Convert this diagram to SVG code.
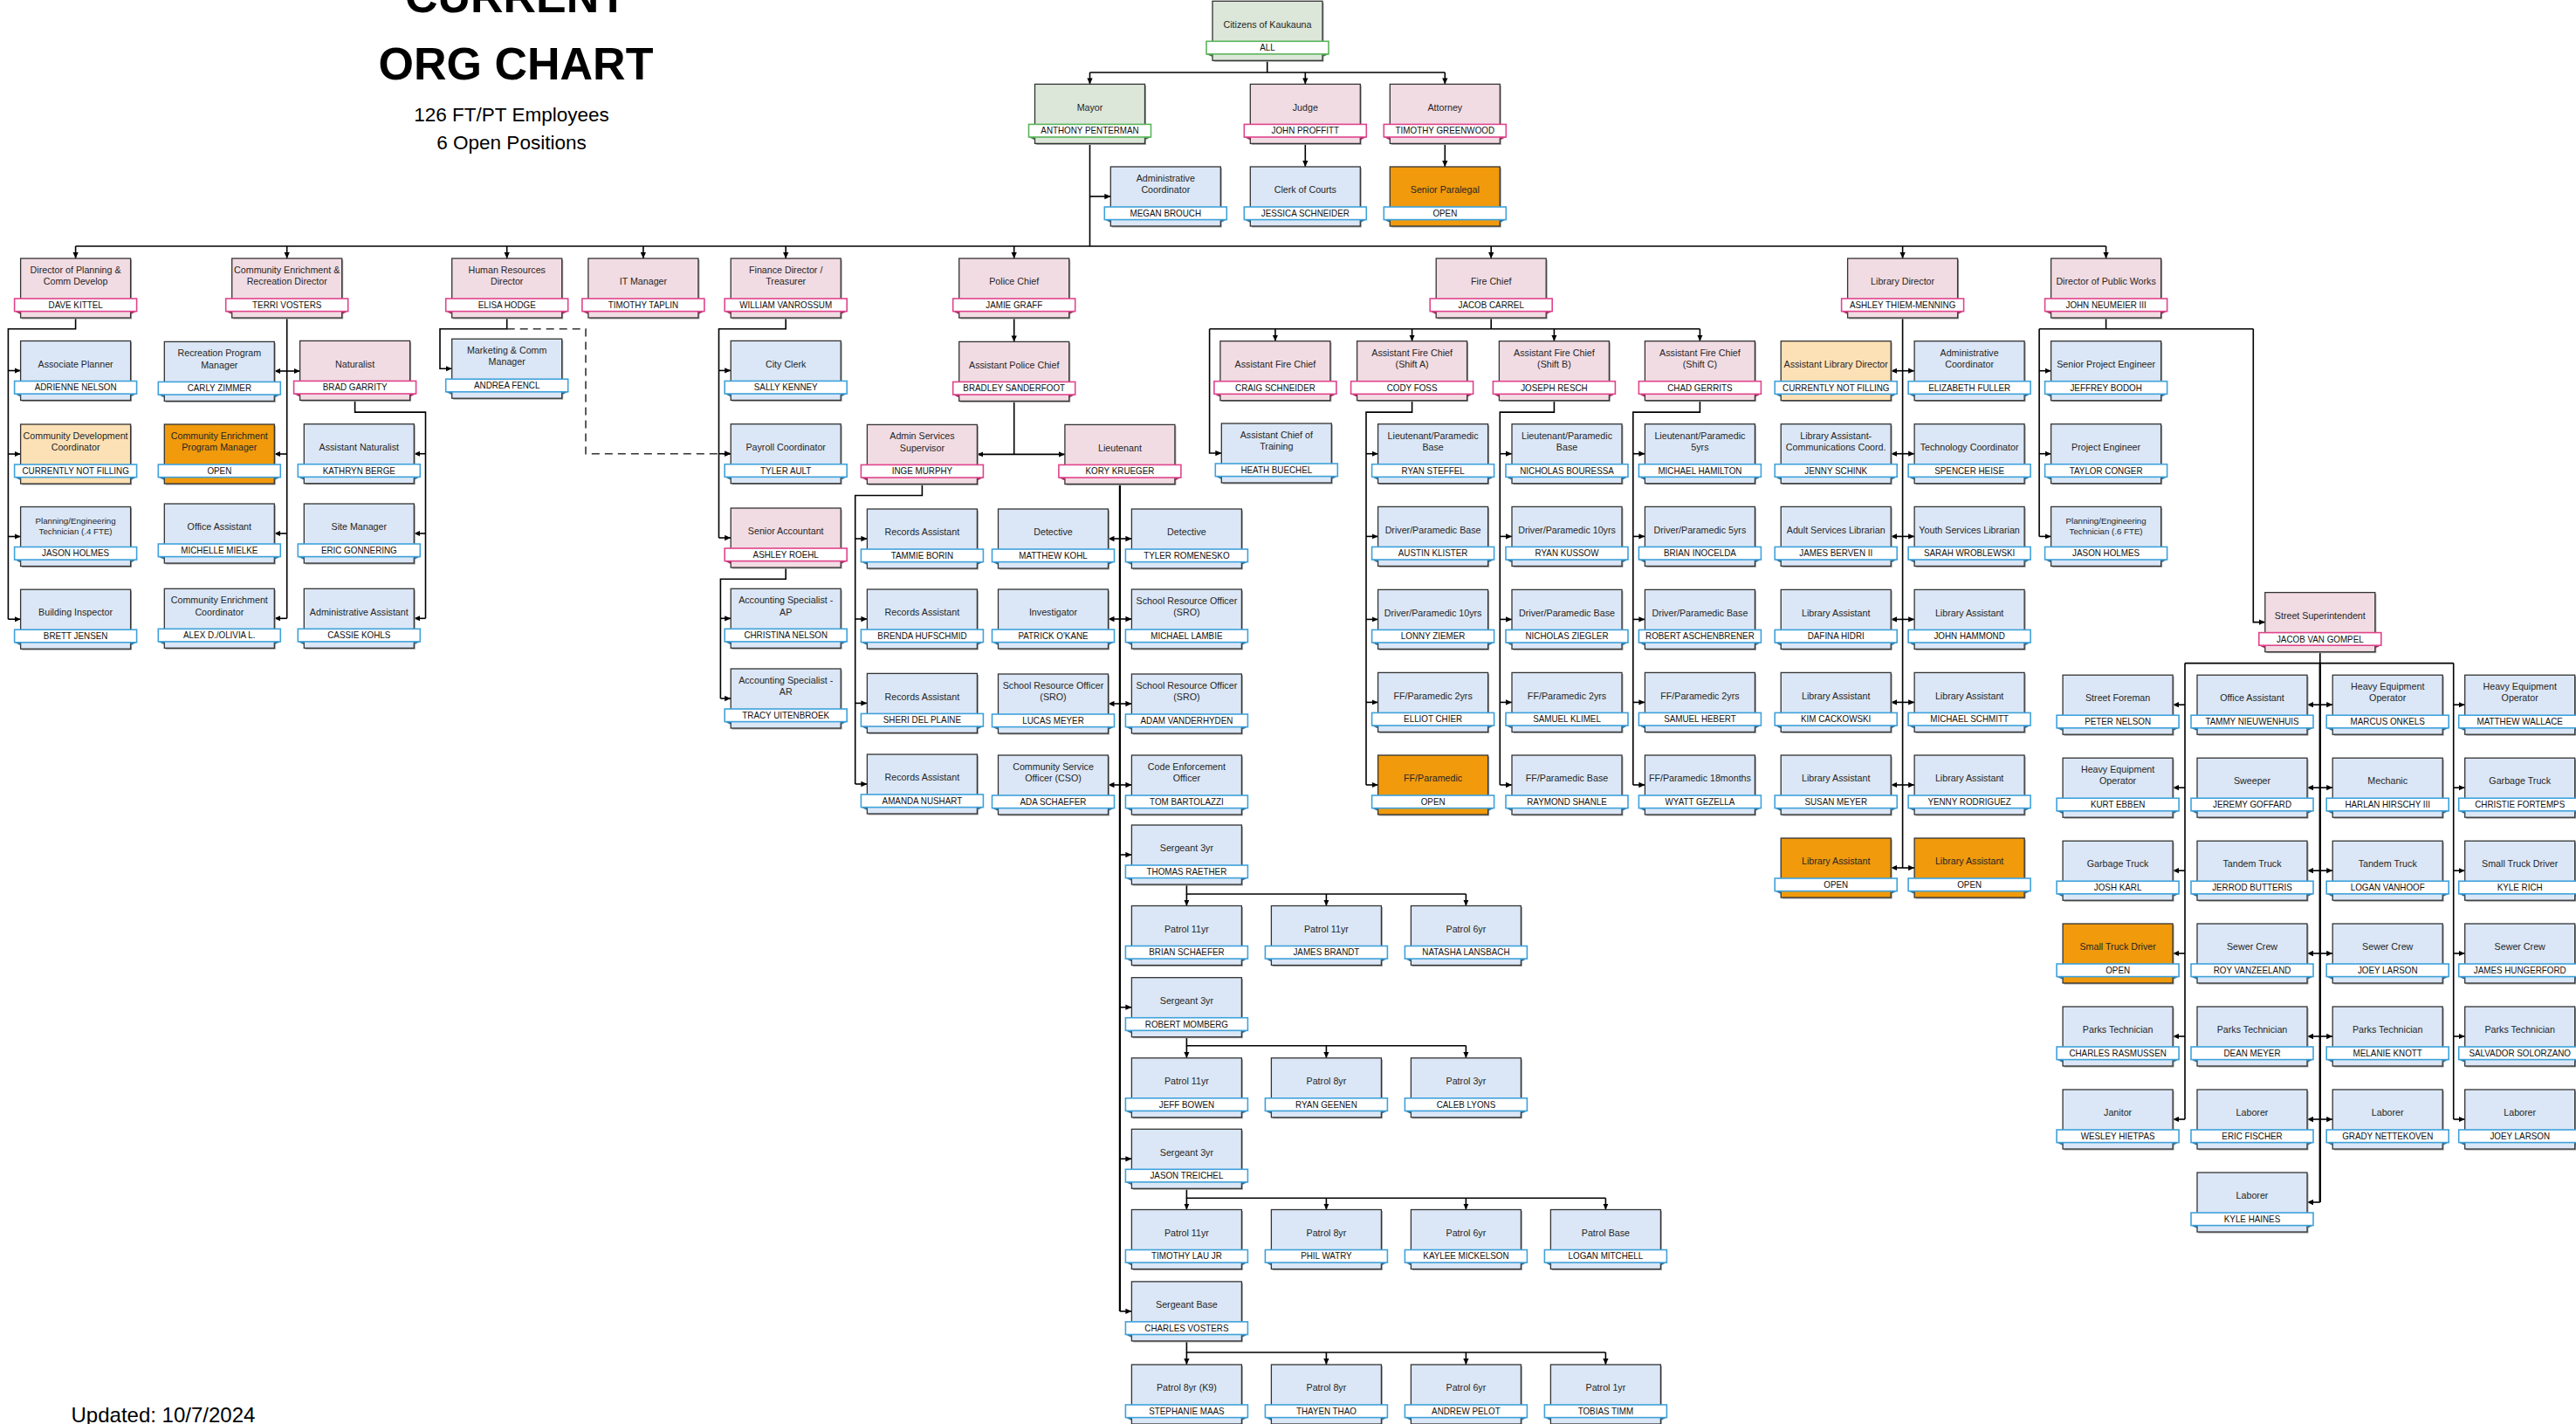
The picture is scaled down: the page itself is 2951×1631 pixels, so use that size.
<svg xmlns="http://www.w3.org/2000/svg" xmlns:xlink="http://www.w3.org/1999/xlink" width="2951" height="1631" viewBox="0 0 2951 1631">
<style>
.t{font-family:"Liberation Sans",Arial,sans-serif;font-size:10.7px;fill:#262626;text-anchor:middle}
.ts{font-size:9.7px}
.n{font-family:"Liberation Sans",Arial,sans-serif;font-size:10.7px;fill:#111;text-anchor:middle}
.h1{font-family:"Liberation Sans",Arial,sans-serif;font-size:52px;font-weight:bold;fill:#000;text-anchor:middle}
.h2{font-family:"Liberation Sans",Arial,sans-serif;font-size:22.5px;fill:#000;text-anchor:middle}
.h3{font-family:"Liberation Sans",Arial,sans-serif;font-size:24px;fill:#000}
.c path{fill:none;stroke:#000;stroke-width:1.6}
.c .a{marker-end:url(#ah)}
.c .d{marker-start:url(#ah);marker-end:url(#ah)}
.c .dash{stroke:#333;stroke-dasharray:9 6}
.bx{stroke:#333;stroke-width:1.3}
.bd{fill:#fff;stroke-width:1.6}
.sh{fill:#a3a3a3}
</style>
<defs>
<marker id="ah" viewBox="0 0 8 8" refX="8" refY="4" markerWidth="7" markerHeight="7" markerUnits="userSpaceOnUse" orient="auto-start-reverse"><path d="M0,0.4L8,4L0,7.6z" fill="#000"/></marker>
<g id="bP"><rect class="sh" x="1.5" y="1.5" width="126" height="68"/><rect class="bx" width="126" height="68" fill="#F2DCE3"/><path d="M-7,60.6H0V64ZM133,60.6H126V64Z" fill="#9E2B5F"/><rect class="bd" x="-7" y="46" width="140" height="14.6" stroke="#E0448C"/></g>
<g id="bB"><rect class="sh" x="1.5" y="1.5" width="126" height="68"/><rect class="bx" width="126" height="68" fill="#DBE7F6"/><path d="M-7,60.6H0V64ZM133,60.6H126V64Z" fill="#2C6F98"/><rect class="bd" x="-7" y="46" width="140" height="14.6" stroke="#3FA2DB"/></g>
<g id="bG"><rect class="sh" x="1.5" y="1.5" width="126" height="68"/><rect class="bx" width="126" height="68" fill="#DCE7DA"/><path d="M-7,60.6H0V64ZM133,60.6H126V64Z" fill="#3A7A3A"/><rect class="bd" x="-7" y="46" width="140" height="14.6" stroke="#5AB55A"/></g>
<g id="bO"><rect class="sh" x="1.5" y="1.5" width="126" height="68"/><rect class="bx" width="126" height="68" fill="#F09A0C"/><path d="M-7,60.6H0V64ZM133,60.6H126V64Z" fill="#2C6F98"/><rect class="bd" x="-7" y="46" width="140" height="14.6" stroke="#3FA2DB"/></g>
<g id="bY"><rect class="sh" x="1.5" y="1.5" width="126" height="68"/><rect class="bx" width="126" height="68" fill="#FDE1B6"/><path d="M-7,60.6H0V64ZM133,60.6H126V64Z" fill="#2C6F98"/><rect class="bd" x="-7" y="46" width="140" height="14.6" stroke="#3FA2DB"/></g>
</defs>
<rect width="2951" height="1631" fill="#fff"/>
<g id="title">
<text class="h1" x="591" y="14">CURRENT</text>
<text class="h1" x="591" y="91">ORG CHART</text>
<text class="h2" x="586" y="139">126 FT/PT Employees</text>
<text class="h2" x="586" y="170.5">6 Open Positions</text>
<text class="h3" x="81.5" y="1629">Updated: 10/7/2024</text>
</g>
<g id="connectors" class="c">
<path d="M1451.7,69.6V83M1248.5,83H1655.3M1248.5,164.4V282M86.6,282H2412.6"/>
<path class="a" d="M1248.5,83V96.4"/><path class="a" d="M1495.3,83V96.4"/><path class="a" d="M1655.3,83V96.4"/>
<path class="a" d="M1495.3,164.4V191"/><path class="a" d="M1655.3,164.4V191"/><path class="a" d="M1248.5,225H1272.3"/>
<path class="a" d="M86.6,282V296"/><path class="a" d="M328.7,282V296"/><path class="a" d="M580.7,282V296"/><path class="a" d="M736.9,282V296"/><path class="a" d="M900.2,282V296"/><path class="a" d="M1161.7,282V296"/><path class="a" d="M1708.2,282V296"/><path class="a" d="M2179.6,282V296"/><path class="a" d="M2412.6,282V296"/>
<path d="M86.6,364V376.8H9.4V709.2"/>
<path class="a" d="M9.4,424.5H23.6"/><path class="a" d="M9.4,520H23.6"/><path class="a" d="M9.4,614.5H23.6"/><path class="a" d="M9.4,709.2H23.6"/>
<path d="M328.7,364V708.3"/>
<path class="d" d="M314.3,425H343.6"/><path class="a" d="M328.7,520H314.3"/><path class="a" d="M328.7,611H314.3"/><path class="a" d="M328.7,708.3H314.3"/>
<path d="M406.6,458.4V472.1H487.5V708.3"/>
<path class="a" d="M487.5,519.7H474.3"/><path class="a" d="M487.5,611H474.3"/><path class="a" d="M487.5,708.3H474.3"/>
<path class="a" d="M580.7,364V376.8H504V422.2H517.7"/>
<path class="a dash" d="M580.7,376.8H671V519.7H837.2"/>
<path d="M900.2,364V376.8H823.5V616"/>
<path class="a" d="M823.5,424.4H837.2"/><path class="a" d="M823.5,519.7H837.2"/><path class="a" d="M823.5,616H837.2"/>
<path d="M900.2,650V663.2H825.4V800"/>
<path class="a" d="M825.4,708.3H837.2"/><path class="a" d="M825.4,800H837.2"/>
<path class="a" d="M1161.7,364V391.4"/>
<path d="M1161.7,459.4V520.4"/><path class="d" d="M1119.4,520.4H1219.9"/>
<path d="M1056.4,554.4V567.5H979.7V898"/>
<path class="a" d="M979.7,617H993.4"/><path class="a" d="M979.7,709H993.4"/><path class="a" d="M979.7,805.4H993.4"/><path class="a" d="M979.7,898H993.4"/>
<path d="M1282.9,554.4V1501.9" style="stroke-width:2.2"/>
<path class="d" d="M1269.5,617H1296.4"/><path class="d" d="M1269.5,709H1296.4"/><path class="d" d="M1269.5,806H1296.4"/><path class="d" d="M1269.5,899H1296.4"/>
<path class="a" d="M1282.9,979H1296.4"/><path class="a" d="M1282.9,1153.7H1296.4"/><path class="a" d="M1282.9,1327.3H1296.4"/><path class="a" d="M1282.9,1501.9H1296.4"/>
<path d="M1359.4,1013V1024H1679.4"/>
<path class="a" d="M1359.4,1024V1037.5"/><path class="a" d="M1519.4,1024V1037.5"/><path class="a" d="M1679.4,1024V1037.5"/>
<path d="M1359.4,1187.7V1197.7H1679.4"/>
<path class="a" d="M1359.4,1197.7V1211.8"/><path class="a" d="M1519.4,1197.7V1211.8"/><path class="a" d="M1679.4,1197.7V1211.8"/>
<path d="M1359.4,1361.3V1372.3H1839.4"/>
<path class="a" d="M1359.4,1372.3V1385.5"/><path class="a" d="M1519.4,1372.3V1385.5"/><path class="a" d="M1679.4,1372.3V1385.5"/><path class="a" d="M1839.4,1372.3V1385.5"/>
<path d="M1359.4,1535.9V1549H1839.4"/>
<path class="a" d="M1359.4,1549V1563"/><path class="a" d="M1519.4,1549V1563"/><path class="a" d="M1679.4,1549V1563"/><path class="a" d="M1839.4,1549V1563"/>
<path d="M1708.2,364V376.8M1385.6,376.8H1947.4"/>
<path class="a" d="M1385.6,376.8V519H1399.3"/>
<path class="a" d="M1460.9,376.8V390.7"/><path class="a" d="M1617.6,376.8V390.7"/><path class="a" d="M1780.4,376.8V390.7"/><path class="a" d="M1947.4,376.8V390.7"/>
<path d="M1617.6,458.7V472.1H1565V899"/>
<path class="a" d="M1565,519.7H1578.6"/><path class="a" d="M1565,614.4H1578.6"/><path class="a" d="M1565,709.4H1578.6"/><path class="a" d="M1565,804.4H1578.6"/><path class="a" d="M1565,899H1578.6"/>
<path d="M1780.4,458.7V472.1H1718.3V899"/>
<path class="a" d="M1718.3,519.7H1732"/><path class="a" d="M1718.3,614.4H1732"/><path class="a" d="M1718.3,709.4H1732"/><path class="a" d="M1718.3,804.4H1732"/><path class="a" d="M1718.3,899H1732"/>
<path d="M1947.4,458.7V472.1H1870.8V899"/>
<path class="a" d="M1870.8,519.7H1884.4"/><path class="a" d="M1870.8,614.4H1884.4"/><path class="a" d="M1870.8,709.4H1884.4"/><path class="a" d="M1870.8,804.4H1884.4"/><path class="a" d="M1870.8,899H1884.4"/>
<path d="M2179.6,364V994"/>
<path class="d" d="M2166.2,424.7H2193.1"/><path class="d" d="M2166.2,519.7H2193.1"/><path class="d" d="M2166.2,614.4H2193.1"/><path class="d" d="M2166.2,709.4H2193.1"/><path class="d" d="M2166.2,804.4H2193.1"/><path class="d" d="M2166.2,899H2193.1"/><path class="d" d="M2166.2,994H2193.1"/>
<path d="M2412.6,364V376.8M2336.1,376.8H2581.3M2336.1,376.8V614.4"/>
<path class="a" d="M2336.1,424.7H2349.6"/><path class="a" d="M2336.1,519.7H2349.6"/><path class="a" d="M2336.1,614.4H2349.6"/>
<path class="a" d="M2581.3,376.8V712.6H2594.8"/>
<path d="M2657.8,746.6V759.6M2503,759.6H2810.7M2503,759.6V1282M2810.7,759.6V1282"/>
<path d="M2657.8,759.6V1377" style="stroke-width:2.4"/>
<path class="a" d="M2503,807.2H2489.1"/><path class="a" d="M2503,902.2H2489.1"/><path class="a" d="M2503,997.2H2489.1"/><path class="a" d="M2503,1092H2489.1"/><path class="a" d="M2503,1187H2489.1"/><path class="a" d="M2503,1282H2489.1"/>
<path class="d" d="M2643,807.2H2672.2"/><path class="d" d="M2643,902.2H2672.2"/><path class="d" d="M2643,997.2H2672.2"/><path class="d" d="M2643,1092H2672.2"/><path class="d" d="M2643,1187H2672.2"/><path class="d" d="M2643,1282H2672.2"/><path class="a" d="M2657.8,1377H2643"/>
<path class="a" d="M2810.7,807.2H2823.7"/><path class="a" d="M2810.7,902.2H2823.7"/><path class="a" d="M2810.7,997.2H2823.7"/><path class="a" d="M2810.7,1092H2823.7"/><path class="a" d="M2810.7,1187H2823.7"/><path class="a" d="M2810.7,1282H2823.7"/>
</g>
<g id="nodes">
<g id="n-citizens" transform="translate(1389,1.3)"><use href="#bG"/><text class="t" x="63" y="30.3">Citizens of Kaukauna</text><text class="n" x="68.5" y="57" transform="scale(.92,1)">ALL</text></g>
<g id="n-mayor" transform="translate(1185.5,96.4)"><use href="#bG"/><text class="t" x="63" y="30.3">Mayor</text><text class="n" x="68.5" y="57" transform="scale(.92,1)">ANTHONY PENTERMAN</text></g>
<g id="n-judge" transform="translate(1432.3,96.4)"><use href="#bP"/><text class="t" x="63" y="30.3">Judge</text><text class="n" x="68.5" y="57" transform="scale(.92,1)">JOHN PROFFITT</text></g>
<g id="n-attorney" transform="translate(1592.3,96.4)"><use href="#bP"/><text class="t" x="63" y="30.3">Attorney</text><text class="n" x="68.5" y="57" transform="scale(.92,1)">TIMOTHY GREENWOOD</text></g>
<g id="n-mayor-admin" transform="translate(1272.3,191)"><use href="#bB"/><text class="t" x="63" y="17.1">Administrative</text><text class="t" x="63" y="30.3">Coordinator</text><text class="n" x="68.5" y="57" transform="scale(.92,1)">MEGAN BROUCH</text></g>
<g id="n-clerk-courts" transform="translate(1432.3,191)"><use href="#bB"/><text class="t" x="63" y="30.3">Clerk of Courts</text><text class="n" x="68.5" y="57" transform="scale(.92,1)">JESSICA SCHNEIDER</text></g>
<g id="n-paralegal" transform="translate(1592.3,191)"><use href="#bO"/><text class="t" x="63" y="30.3">Senior Paralegal</text><text class="n" x="68.5" y="57" transform="scale(.92,1)">OPEN</text></g>

<g id="n-planning" transform="translate(23.6,296)"><use href="#bP"/><text class="t" x="63" y="17.1">Director of Planning &amp;</text><text class="t" x="63" y="30.3">Comm Develop</text><text class="n" x="68.5" y="57" transform="scale(.92,1)">DAVE KITTEL</text></g>
<g id="n-cer" transform="translate(265.7,296)"><use href="#bP"/><text class="t" x="63" y="17.1">Community Enrichment &amp;</text><text class="t" x="63" y="30.3">Recreation Director</text><text class="n" x="68.5" y="57" transform="scale(.92,1)">TERRI VOSTERS</text></g>
<g id="n-hr" transform="translate(517.7,296)"><use href="#bP"/><text class="t" x="63" y="17.1">Human Resources</text><text class="t" x="63" y="30.3">Director</text><text class="n" x="68.5" y="57" transform="scale(.92,1)">ELISA HODGE</text></g>
<g id="n-it" transform="translate(673.9,296)"><use href="#bP"/><text class="t" x="63" y="30.3">IT Manager</text><text class="n" x="68.5" y="57" transform="scale(.92,1)">TIMOTHY TAPLIN</text></g>
<g id="n-finance" transform="translate(837.2,296)"><use href="#bP"/><text class="t" x="63" y="17.1">Finance Director /</text><text class="t" x="63" y="30.3">Treasurer</text><text class="n" x="68.5" y="57" transform="scale(.92,1)">WILLIAM VANROSSUM</text></g>
<g id="n-police" transform="translate(1098.7,296)"><use href="#bP"/><text class="t" x="63" y="30.3">Police Chief</text><text class="n" x="68.5" y="57" transform="scale(.92,1)">JAMIE GRAFF</text></g>
<g id="n-fire" transform="translate(1645.2,296)"><use href="#bP"/><text class="t" x="63" y="30.3">Fire Chief</text><text class="n" x="68.5" y="57" transform="scale(.92,1)">JACOB CARREL</text></g>
<g id="n-library" transform="translate(2116.6,296)"><use href="#bP"/><text class="t" x="63" y="30.3">Library Director</text><text class="n" x="68.5" y="57" transform="scale(.92,1)">ASHLEY THIEM-MENNING</text></g>
<g id="n-pw" transform="translate(2349.6,296)"><use href="#bP"/><text class="t" x="63" y="30.3">Director of Public Works</text><text class="n" x="68.5" y="57" transform="scale(.92,1)">JOHN NEUMEIER III</text></g>

<g id="n-assoc-planner" transform="translate(23.6,390.5)"><use href="#bB"/><text class="t" x="63" y="30.3">Associate Planner</text><text class="n" x="68.5" y="57" transform="scale(.92,1)">ADRIENNE NELSON</text></g>
<g id="n-comm-dev" transform="translate(23.6,486)"><use href="#bY"/><text class="t" x="63" y="17.1">Community Development</text><text class="t" x="63" y="30.3">Coordinator</text><text class="n" x="68.5" y="57" transform="scale(.92,1)">CURRENTLY NOT FILLING</text></g>
<g id="n-plan-tech4" transform="translate(23.6,580.5)"><use href="#bB"/><text class="t ts" x="63" y="19.7">Planning/Engineering</text><text class="t ts" x="63" y="31.5">Technician (.4 FTE)</text><text class="n" x="68.5" y="57" transform="scale(.92,1)">JASON HOLMES</text></g>
<g id="n-bldg-insp" transform="translate(23.6,675.2)"><use href="#bB"/><text class="t" x="63" y="30.3">Building Inspector</text><text class="n" x="68.5" y="57" transform="scale(.92,1)">BRETT JENSEN</text></g>

<g id="n-rec-pm" transform="translate(188.3,391.4)"><use href="#bB"/><text class="t" x="63" y="17.1">Recreation Program</text><text class="t" x="63" y="30.3">Manager</text><text class="n" x="68.5" y="57" transform="scale(.92,1)">CARLY ZIMMER</text></g>
<g id="n-ce-pm" transform="translate(188.3,486)"><use href="#bO"/><text class="t" x="63" y="17.1">Community Enrichment</text><text class="t" x="63" y="30.3">Program Manager</text><text class="n" x="68.5" y="57" transform="scale(.92,1)">OPEN</text></g>
<g id="n-cer-office" transform="translate(188.3,577)"><use href="#bB"/><text class="t" x="63" y="30.3">Office Assistant</text><text class="n" x="68.5" y="57" transform="scale(.92,1)">MICHELLE MIELKE</text></g>
<g id="n-ce-coord" transform="translate(188.3,674.3)"><use href="#bB"/><text class="t" x="63" y="17.1">Community Enrichment</text><text class="t" x="63" y="30.3">Coordinator</text><text class="n" x="68.5" y="57" transform="scale(.92,1)">ALEX D./OLIVIA L.</text></g>
<g id="n-naturalist" transform="translate(343.6,390.4)"><use href="#bP"/><text class="t" x="63" y="30.3">Naturalist</text><text class="n" x="68.5" y="57" transform="scale(.92,1)">BRAD GARRITY</text></g>
<g id="n-asst-nat" transform="translate(348.3,485.7)"><use href="#bB"/><text class="t" x="63" y="30.3">Assistant Naturalist</text><text class="n" x="68.5" y="57" transform="scale(.92,1)">KATHRYN BERGE</text></g>
<g id="n-site-mgr" transform="translate(348.3,577)"><use href="#bB"/><text class="t" x="63" y="30.3">Site Manager</text><text class="n" x="68.5" y="57" transform="scale(.92,1)">ERIC GONNERING</text></g>
<g id="n-nat-admin" transform="translate(348.3,674.3)"><use href="#bB"/><text class="t" x="63" y="30.3">Administrative Assistant</text><text class="n" x="68.5" y="57" transform="scale(.92,1)">CASSIE KOHLS</text></g>

<g id="n-marketing" transform="translate(517.7,388.2)"><use href="#bB"/><text class="t" x="63" y="17.1">Marketing &amp; Comm</text><text class="t" x="63" y="30.3">Manager</text><text class="n" x="68.5" y="57" transform="scale(.92,1)">ANDREA FENCL</text></g>

<g id="n-city-clerk" transform="translate(837.2,390.4)"><use href="#bB"/><text class="t" x="63" y="30.3">City Clerk</text><text class="n" x="68.5" y="57" transform="scale(.92,1)">SALLY KENNEY</text></g>
<g id="n-payroll" transform="translate(837.2,485.7)"><use href="#bB"/><text class="t" x="63" y="30.3">Payroll Coordinator</text><text class="n" x="68.5" y="57" transform="scale(.92,1)">TYLER AULT</text></g>
<g id="n-sr-acct" transform="translate(837.2,582)"><use href="#bP"/><text class="t" x="63" y="30.3">Senior Accountant</text><text class="n" x="68.5" y="57" transform="scale(.92,1)">ASHLEY ROEHL</text></g>
<g id="n-acct-ap" transform="translate(837.2,674.3)"><use href="#bB"/><text class="t" x="63" y="17.1">Accounting Specialist -</text><text class="t" x="63" y="30.3">AP</text><text class="n" x="68.5" y="57" transform="scale(.92,1)">CHRISTINA NELSON</text></g>
<g id="n-acct-ar" transform="translate(837.2,766)"><use href="#bB"/><text class="t" x="63" y="17.1">Accounting Specialist -</text><text class="t" x="63" y="30.3">AR</text><text class="n" x="68.5" y="57" transform="scale(.92,1)">TRACY UITENBROEK</text></g>

<g id="n-asst-police" transform="translate(1098.7,391.4)"><use href="#bP"/><text class="t" x="63" y="30.3">Assistant Police Chief</text><text class="n" x="68.5" y="57" transform="scale(.92,1)">BRADLEY SANDERFOOT</text></g>
<g id="n-admin-svc" transform="translate(993.4,486.4)"><use href="#bP"/><text class="t" x="63" y="17.1">Admin Services</text><text class="t" x="63" y="30.3">Supervisor</text><text class="n" x="68.5" y="57" transform="scale(.92,1)">INGE MURPHY</text></g>
<g id="n-lieutenant" transform="translate(1219.9,486.4)"><use href="#bP"/><text class="t" x="63" y="30.3">Lieutenant</text><text class="n" x="68.5" y="57" transform="scale(.92,1)">KORY KRUEGER</text></g>
<g id="n-rec1" transform="translate(993.4,583)"><use href="#bB"/><text class="t" x="63" y="30.3">Records Assistant</text><text class="n" x="68.5" y="57" transform="scale(.92,1)">TAMMIE BORIN</text></g>
<g id="n-rec2" transform="translate(993.4,675)"><use href="#bB"/><text class="t" x="63" y="30.3">Records Assistant</text><text class="n" x="68.5" y="57" transform="scale(.92,1)">BRENDA HUFSCHMID</text></g>
<g id="n-rec3" transform="translate(993.4,771.4)"><use href="#bB"/><text class="t" x="63" y="30.3">Records Assistant</text><text class="n" x="68.5" y="57" transform="scale(.92,1)">SHERI DEL PLAINE</text></g>
<g id="n-rec4" transform="translate(993.4,864)"><use href="#bB"/><text class="t" x="63" y="30.3">Records Assistant</text><text class="n" x="68.5" y="57" transform="scale(.92,1)">AMANDA NUSHART</text></g>
<g id="n-det1" transform="translate(1143.5,583)"><use href="#bB"/><text class="t" x="63" y="30.3">Detective</text><text class="n" x="68.5" y="57" transform="scale(.92,1)">MATTHEW KOHL</text></g>
<g id="n-invest" transform="translate(1143.5,675)"><use href="#bB"/><text class="t" x="63" y="30.3">Investigator</text><text class="n" x="68.5" y="57" transform="scale(.92,1)">PATRICK O'KANE</text></g>
<g id="n-sro1" transform="translate(1143.5,772)"><use href="#bB"/><text class="t" x="63" y="17.1">School Resource Officer</text><text class="t" x="63" y="30.3">(SRO)</text><text class="n" x="68.5" y="57" transform="scale(.92,1)">LUCAS MEYER</text></g>
<g id="n-cso" transform="translate(1143.5,865)"><use href="#bB"/><text class="t" x="63" y="17.1">Community Service</text><text class="t" x="63" y="30.3">Officer (CSO)</text><text class="n" x="68.5" y="57" transform="scale(.92,1)">ADA SCHAEFER</text></g>
<g id="n-det2" transform="translate(1296.4,583)"><use href="#bB"/><text class="t" x="63" y="30.3">Detective</text><text class="n" x="68.5" y="57" transform="scale(.92,1)">TYLER ROMENESKO</text></g>
<g id="n-sro2" transform="translate(1296.4,675)"><use href="#bB"/><text class="t" x="63" y="17.1">School Resource Officer</text><text class="t" x="63" y="30.3">(SRO)</text><text class="n" x="68.5" y="57" transform="scale(.92,1)">MICHAEL LAMBIE</text></g>
<g id="n-sro3" transform="translate(1296.4,772)"><use href="#bB"/><text class="t" x="63" y="17.1">School Resource Officer</text><text class="t" x="63" y="30.3">(SRO)</text><text class="n" x="68.5" y="57" transform="scale(.92,1)">ADAM VANDERHYDEN</text></g>
<g id="n-code" transform="translate(1296.4,865)"><use href="#bB"/><text class="t" x="63" y="17.1">Code Enforcement</text><text class="t" x="63" y="30.3">Officer</text><text class="n" x="68.5" y="57" transform="scale(.92,1)">TOM BARTOLAZZI</text></g>
<g id="n-sgt1" transform="translate(1296.4,945)"><use href="#bB"/><text class="t" x="63" y="30.3">Sergeant 3yr</text><text class="n" x="68.5" y="57" transform="scale(.92,1)">THOMAS RAETHER</text></g>
<g id="n-p11" transform="translate(1296.4,1037.5)"><use href="#bB"/><text class="t" x="63" y="30.3">Patrol 11yr</text><text class="n" x="68.5" y="57" transform="scale(.92,1)">BRIAN SCHAEFER</text></g>
<g id="n-p12" transform="translate(1456.4,1037.5)"><use href="#bB"/><text class="t" x="63" y="30.3">Patrol 11yr</text><text class="n" x="68.5" y="57" transform="scale(.92,1)">JAMES BRANDT</text></g>
<g id="n-p13" transform="translate(1616.4,1037.5)"><use href="#bB"/><text class="t" x="63" y="30.3">Patrol 6yr</text><text class="n" x="68.5" y="57" transform="scale(.92,1)">NATASHA LANSBACH</text></g>
<g id="n-sgt2" transform="translate(1296.4,1119.7)"><use href="#bB"/><text class="t" x="63" y="30.3">Sergeant 3yr</text><text class="n" x="68.5" y="57" transform="scale(.92,1)">ROBERT MOMBERG</text></g>
<g id="n-p21" transform="translate(1296.4,1211.8)"><use href="#bB"/><text class="t" x="63" y="30.3">Patrol 11yr</text><text class="n" x="68.5" y="57" transform="scale(.92,1)">JEFF BOWEN</text></g>
<g id="n-p22" transform="translate(1456.4,1211.8)"><use href="#bB"/><text class="t" x="63" y="30.3">Patrol 8yr</text><text class="n" x="68.5" y="57" transform="scale(.92,1)">RYAN GEENEN</text></g>
<g id="n-p23" transform="translate(1616.4,1211.8)"><use href="#bB"/><text class="t" x="63" y="30.3">Patrol 3yr</text><text class="n" x="68.5" y="57" transform="scale(.92,1)">CALEB LYONS</text></g>
<g id="n-sgt3" transform="translate(1296.4,1293.3)"><use href="#bB"/><text class="t" x="63" y="30.3">Sergeant 3yr</text><text class="n" x="68.5" y="57" transform="scale(.92,1)">JASON TREICHEL</text></g>
<g id="n-p31" transform="translate(1296.4,1385.5)"><use href="#bB"/><text class="t" x="63" y="30.3">Patrol 11yr</text><text class="n" x="68.5" y="57" transform="scale(.92,1)">TIMOTHY LAU JR</text></g>
<g id="n-p32" transform="translate(1456.4,1385.5)"><use href="#bB"/><text class="t" x="63" y="30.3">Patrol 8yr</text><text class="n" x="68.5" y="57" transform="scale(.92,1)">PHIL WATRY</text></g>
<g id="n-p33" transform="translate(1616.4,1385.5)"><use href="#bB"/><text class="t" x="63" y="30.3">Patrol 6yr</text><text class="n" x="68.5" y="57" transform="scale(.92,1)">KAYLEE MICKELSON</text></g>
<g id="n-p34" transform="translate(1776.4,1385.5)"><use href="#bB"/><text class="t" x="63" y="30.3">Patrol Base</text><text class="n" x="68.5" y="57" transform="scale(.92,1)">LOGAN MITCHELL</text></g>
<g id="n-sgt4" transform="translate(1296.4,1467.9)"><use href="#bB"/><text class="t" x="63" y="30.3">Sergeant Base</text><text class="n" x="68.5" y="57" transform="scale(.92,1)">CHARLES VOSTERS</text></g>
<g id="n-p41" transform="translate(1296.4,1563)"><use href="#bB"/><text class="t" x="63" y="30.3">Patrol 8yr (K9)</text><text class="n" x="68.5" y="57" transform="scale(.92,1)">STEPHANIE MAAS</text></g>
<g id="n-p42" transform="translate(1456.4,1563)"><use href="#bB"/><text class="t" x="63" y="30.3">Patrol 8yr</text><text class="n" x="68.5" y="57" transform="scale(.92,1)">THAYEN THAO</text></g>
<g id="n-p43" transform="translate(1616.4,1563)"><use href="#bB"/><text class="t" x="63" y="30.3">Patrol 6yr</text><text class="n" x="68.5" y="57" transform="scale(.92,1)">ANDREW PELOT</text></g>
<g id="n-p44" transform="translate(1776.4,1563)"><use href="#bB"/><text class="t" x="63" y="30.3">Patrol 1yr</text><text class="n" x="68.5" y="57" transform="scale(.92,1)">TOBIAS TIMM</text></g>

<g id="n-afc" transform="translate(1397.9,390.7)"><use href="#bP"/><text class="t" x="63" y="30.3">Assistant Fire Chief</text><text class="n" x="68.5" y="57" transform="scale(.92,1)">CRAIG SCHNEIDER</text></g>
<g id="n-training" transform="translate(1399.3,485)"><use href="#bB"/><text class="t" x="63" y="17.1">Assistant Chief of</text><text class="t" x="63" y="30.3">Training</text><text class="n" x="68.5" y="57" transform="scale(.92,1)">HEATH BUECHEL</text></g>
<g id="n-shiftA" transform="translate(1554.6,390.7)"><use href="#bP"/><text class="t" x="63" y="17.1">Assistant Fire Chief</text><text class="t" x="63" y="30.3">(Shift A)</text><text class="n" x="68.5" y="57" transform="scale(.92,1)">CODY FOSS</text></g>
<g id="n-shiftB" transform="translate(1717.4,390.7)"><use href="#bP"/><text class="t" x="63" y="17.1">Assistant Fire Chief</text><text class="t" x="63" y="30.3">(Shift B)</text><text class="n" x="68.5" y="57" transform="scale(.92,1)">JOSEPH RESCH</text></g>
<g id="n-shiftC" transform="translate(1884.4,390.7)"><use href="#bP"/><text class="t" x="63" y="17.1">Assistant Fire Chief</text><text class="t" x="63" y="30.3">(Shift C)</text><text class="n" x="68.5" y="57" transform="scale(.92,1)">CHAD GERRITS</text></g>
<g id="n-a1" transform="translate(1578.6,485.7)"><use href="#bB"/><text class="t" x="63" y="17.1">Lieutenant/Paramedic</text><text class="t" x="63" y="30.3">Base</text><text class="n" x="68.5" y="57" transform="scale(.92,1)">RYAN STEFFEL</text></g>
<g id="n-a2" transform="translate(1578.6,580.4)"><use href="#bB"/><text class="t" x="63" y="30.3">Driver/Paramedic Base</text><text class="n" x="68.5" y="57" transform="scale(.92,1)">AUSTIN KLISTER</text></g>
<g id="n-a3" transform="translate(1578.6,675.4)"><use href="#bB"/><text class="t" x="63" y="30.3">Driver/Paramedic 10yrs</text><text class="n" x="68.5" y="57" transform="scale(.92,1)">LONNY ZIEMER</text></g>
<g id="n-a4" transform="translate(1578.6,770.4)"><use href="#bB"/><text class="t" x="63" y="30.3">FF/Paramedic 2yrs</text><text class="n" x="68.5" y="57" transform="scale(.92,1)">ELLIOT CHIER</text></g>
<g id="n-a5" transform="translate(1578.6,865)"><use href="#bO"/><text class="t" x="63" y="30.3">FF/Paramedic</text><text class="n" x="68.5" y="57" transform="scale(.92,1)">OPEN</text></g>
<g id="n-b1" transform="translate(1732,485.7)"><use href="#bB"/><text class="t" x="63" y="17.1">Lieutenant/Paramedic</text><text class="t" x="63" y="30.3">Base</text><text class="n" x="68.5" y="57" transform="scale(.92,1)">NICHOLAS BOURESSA</text></g>
<g id="n-b2" transform="translate(1732,580.4)"><use href="#bB"/><text class="t" x="63" y="30.3">Driver/Paramedic 10yrs</text><text class="n" x="68.5" y="57" transform="scale(.92,1)">RYAN KUSSOW</text></g>
<g id="n-b3" transform="translate(1732,675.4)"><use href="#bB"/><text class="t" x="63" y="30.3">Driver/Paramedic Base</text><text class="n" x="68.5" y="57" transform="scale(.92,1)">NICHOLAS ZIEGLER</text></g>
<g id="n-b4" transform="translate(1732,770.4)"><use href="#bB"/><text class="t" x="63" y="30.3">FF/Paramedic 2yrs</text><text class="n" x="68.5" y="57" transform="scale(.92,1)">SAMUEL KLIMEL</text></g>
<g id="n-b5" transform="translate(1732,865)"><use href="#bB"/><text class="t" x="63" y="30.3">FF/Paramedic Base</text><text class="n" x="68.5" y="57" transform="scale(.92,1)">RAYMOND SHANLE</text></g>
<g id="n-c1" transform="translate(1884.4,485.7)"><use href="#bB"/><text class="t" x="63" y="17.1">Lieutenant/Paramedic</text><text class="t" x="63" y="30.3">5yrs</text><text class="n" x="68.5" y="57" transform="scale(.92,1)">MICHAEL HAMILTON</text></g>
<g id="n-c2" transform="translate(1884.4,580.4)"><use href="#bB"/><text class="t" x="63" y="30.3">Driver/Paramedic 5yrs</text><text class="n" x="68.5" y="57" transform="scale(.92,1)">BRIAN INOCELDA</text></g>
<g id="n-c3" transform="translate(1884.4,675.4)"><use href="#bB"/><text class="t" x="63" y="30.3">Driver/Paramedic Base</text><text class="n" x="68.5" y="57" transform="scale(.92,1)">ROBERT ASCHENBRENER</text></g>
<g id="n-c4" transform="translate(1884.4,770.4)"><use href="#bB"/><text class="t" x="63" y="30.3">FF/Paramedic 2yrs</text><text class="n" x="68.5" y="57" transform="scale(.92,1)">SAMUEL HEBERT</text></g>
<g id="n-c5" transform="translate(1884.4,865)"><use href="#bB"/><text class="t" x="63" y="30.3">FF/Paramedic 18months</text><text class="n" x="68.5" y="57" transform="scale(.92,1)">WYATT GEZELLA</text></g>

<g id="n-lib-asst-dir" transform="translate(2040.2,390.7)"><use href="#bY"/><text class="t" x="63" y="30.3">Assistant Library Director</text><text class="n" x="68.5" y="57" transform="scale(.92,1)">CURRENTLY NOT FILLING</text></g>
<g id="n-lib-comm" transform="translate(2040.2,485.7)"><use href="#bB"/><text class="t" x="63" y="17.1">Library Assistant-</text><text class="t" x="63" y="30.3">Communications Coord.</text><text class="n" x="68.5" y="57" transform="scale(.92,1)">JENNY SCHINK</text></g>
<g id="n-lib-adult" transform="translate(2040.2,580.4)"><use href="#bB"/><text class="t" x="63" y="30.3">Adult Services Librarian</text><text class="n" x="68.5" y="57" transform="scale(.92,1)">JAMES BERVEN II</text></g>
<g id="n-lib-l4" transform="translate(2040.2,675.4)"><use href="#bB"/><text class="t" x="63" y="30.3">Library Assistant</text><text class="n" x="68.5" y="57" transform="scale(.92,1)">DAFINA HIDRI</text></g>
<g id="n-lib-l5" transform="translate(2040.2,770.4)"><use href="#bB"/><text class="t" x="63" y="30.3">Library Assistant</text><text class="n" x="68.5" y="57" transform="scale(.92,1)">KIM CACKOWSKI</text></g>
<g id="n-lib-l6" transform="translate(2040.2,865)"><use href="#bB"/><text class="t" x="63" y="30.3">Library Assistant</text><text class="n" x="68.5" y="57" transform="scale(.92,1)">SUSAN MEYER</text></g>
<g id="n-lib-l7" transform="translate(2040.2,960)"><use href="#bO"/><text class="t" x="63" y="30.3">Library Assistant</text><text class="n" x="68.5" y="57" transform="scale(.92,1)">OPEN</text></g>
<g id="n-lib-admin" transform="translate(2193.1,390.7)"><use href="#bB"/><text class="t" x="63" y="17.1">Administrative</text><text class="t" x="63" y="30.3">Coordinator</text><text class="n" x="68.5" y="57" transform="scale(.92,1)">ELIZABETH FULLER</text></g>
<g id="n-lib-tech" transform="translate(2193.1,485.7)"><use href="#bB"/><text class="t" x="63" y="30.3">Technology Coordinator</text><text class="n" x="68.5" y="57" transform="scale(.92,1)">SPENCER HEISE</text></g>
<g id="n-lib-youth" transform="translate(2193.1,580.4)"><use href="#bB"/><text class="t" x="63" y="30.3">Youth Services Librarian</text><text class="n" x="68.5" y="57" transform="scale(.92,1)">SARAH WROBLEWSKI</text></g>
<g id="n-lib-r4" transform="translate(2193.1,675.4)"><use href="#bB"/><text class="t" x="63" y="30.3">Library Assistant</text><text class="n" x="68.5" y="57" transform="scale(.92,1)">JOHN HAMMOND</text></g>
<g id="n-lib-r5" transform="translate(2193.1,770.4)"><use href="#bB"/><text class="t" x="63" y="30.3">Library Assistant</text><text class="n" x="68.5" y="57" transform="scale(.92,1)">MICHAEL SCHMITT</text></g>
<g id="n-lib-r6" transform="translate(2193.1,865)"><use href="#bB"/><text class="t" x="63" y="30.3">Library Assistant</text><text class="n" x="68.5" y="57" transform="scale(.92,1)">YENNY RODRIGUEZ</text></g>
<g id="n-lib-r7" transform="translate(2193.1,960)"><use href="#bO"/><text class="t" x="63" y="30.3">Library Assistant</text><text class="n" x="68.5" y="57" transform="scale(.92,1)">OPEN</text></g>

<g id="n-sr-eng" transform="translate(2349.6,390.7)"><use href="#bB"/><text class="t" x="63" y="30.3">Senior Project Engineer</text><text class="n" x="68.5" y="57" transform="scale(.92,1)">JEFFREY BODOH</text></g>
<g id="n-proj-eng" transform="translate(2349.6,485.7)"><use href="#bB"/><text class="t" x="63" y="30.3">Project Engineer</text><text class="n" x="68.5" y="57" transform="scale(.92,1)">TAYLOR CONGER</text></g>
<g id="n-plan-tech6" transform="translate(2349.6,580.4)"><use href="#bB"/><text class="t ts" x="63" y="19.7">Planning/Engineering</text><text class="t ts" x="63" y="31.5">Technician (.6 FTE)</text><text class="n" x="68.5" y="57" transform="scale(.92,1)">JASON HOLMES</text></g>
<g id="n-street-sup" transform="translate(2594.8,678.6)"><use href="#bP"/><text class="t" x="63" y="30.3">Street Superintendent</text><text class="n" x="68.5" y="57" transform="scale(.92,1)">JACOB VAN GOMPEL</text></g>

<g id="n-pw11" transform="translate(2363.1,773.2)"><use href="#bB"/><text class="t" x="63" y="30.3">Street Foreman</text><text class="n" x="68.5" y="57" transform="scale(.92,1)">PETER NELSON</text></g>
<g id="n-pw12" transform="translate(2517,773.2)"><use href="#bB"/><text class="t" x="63" y="30.3">Office Assistant</text><text class="n" x="68.5" y="57" transform="scale(.92,1)">TAMMY NIEUWENHUIS</text></g>
<g id="n-pw13" transform="translate(2672.2,773.2)"><use href="#bB"/><text class="t" x="63" y="17.1">Heavy Equipment</text><text class="t" x="63" y="30.3">Operator</text><text class="n" x="68.5" y="57" transform="scale(.92,1)">MARCUS ONKELS</text></g>
<g id="n-pw14" transform="translate(2823.7,773.2)"><use href="#bB"/><text class="t" x="63" y="17.1">Heavy Equipment</text><text class="t" x="63" y="30.3">Operator</text><text class="n" x="68.5" y="57" transform="scale(.92,1)">MATTHEW WALLACE</text></g>
<g id="n-pw21" transform="translate(2363.1,868.2)"><use href="#bB"/><text class="t" x="63" y="17.1">Heavy Equipment</text><text class="t" x="63" y="30.3">Operator</text><text class="n" x="68.5" y="57" transform="scale(.92,1)">KURT EBBEN</text></g>
<g id="n-pw22" transform="translate(2517,868.2)"><use href="#bB"/><text class="t" x="63" y="30.3">Sweeper</text><text class="n" x="68.5" y="57" transform="scale(.92,1)">JEREMY GOFFARD</text></g>
<g id="n-pw23" transform="translate(2672.2,868.2)"><use href="#bB"/><text class="t" x="63" y="30.3">Mechanic</text><text class="n" x="68.5" y="57" transform="scale(.92,1)">HARLAN HIRSCHY III</text></g>
<g id="n-pw24" transform="translate(2823.7,868.2)"><use href="#bB"/><text class="t" x="63" y="30.3">Garbage Truck</text><text class="n" x="68.5" y="57" transform="scale(.92,1)">CHRISTIE FORTEMPS</text></g>
<g id="n-pw31" transform="translate(2363.1,963.2)"><use href="#bB"/><text class="t" x="63" y="30.3">Garbage Truck</text><text class="n" x="68.5" y="57" transform="scale(.92,1)">JOSH KARL</text></g>
<g id="n-pw32" transform="translate(2517,963.2)"><use href="#bB"/><text class="t" x="63" y="30.3">Tandem Truck</text><text class="n" x="68.5" y="57" transform="scale(.92,1)">JERROD BUTTERIS</text></g>
<g id="n-pw33" transform="translate(2672.2,963.2)"><use href="#bB"/><text class="t" x="63" y="30.3">Tandem Truck</text><text class="n" x="68.5" y="57" transform="scale(.92,1)">LOGAN VANHOOF</text></g>
<g id="n-pw34" transform="translate(2823.7,963.2)"><use href="#bB"/><text class="t" x="63" y="30.3">Small Truck Driver</text><text class="n" x="68.5" y="57" transform="scale(.92,1)">KYLE RICH</text></g>
<g id="n-pw41" transform="translate(2363.1,1058)"><use href="#bO"/><text class="t" x="63" y="30.3">Small Truck Driver</text><text class="n" x="68.5" y="57" transform="scale(.92,1)">OPEN</text></g>
<g id="n-pw42" transform="translate(2517,1058)"><use href="#bB"/><text class="t" x="63" y="30.3">Sewer Crew</text><text class="n" x="68.5" y="57" transform="scale(.92,1)">ROY VANZEELAND</text></g>
<g id="n-pw43" transform="translate(2672.2,1058)"><use href="#bB"/><text class="t" x="63" y="30.3">Sewer Crew</text><text class="n" x="68.5" y="57" transform="scale(.92,1)">JOEY LARSON</text></g>
<g id="n-pw44" transform="translate(2823.7,1058)"><use href="#bB"/><text class="t" x="63" y="30.3">Sewer Crew</text><text class="n" x="68.5" y="57" transform="scale(.92,1)">JAMES HUNGERFORD</text></g>
<g id="n-pw51" transform="translate(2363.1,1153)"><use href="#bB"/><text class="t" x="63" y="30.3">Parks Technician</text><text class="n" x="68.5" y="57" transform="scale(.92,1)">CHARLES RASMUSSEN</text></g>
<g id="n-pw52" transform="translate(2517,1153)"><use href="#bB"/><text class="t" x="63" y="30.3">Parks Technician</text><text class="n" x="68.5" y="57" transform="scale(.92,1)">DEAN MEYER</text></g>
<g id="n-pw53" transform="translate(2672.2,1153)"><use href="#bB"/><text class="t" x="63" y="30.3">Parks Technician</text><text class="n" x="68.5" y="57" transform="scale(.92,1)">MELANIE KNOTT</text></g>
<g id="n-pw54" transform="translate(2823.7,1153)"><use href="#bB"/><text class="t" x="63" y="30.3">Parks Technician</text><text class="n" x="68.5" y="57" transform="scale(.92,1)">SALVADOR SOLORZANO</text></g>
<g id="n-pw61" transform="translate(2363.1,1248)"><use href="#bB"/><text class="t" x="63" y="30.3">Janitor</text><text class="n" x="68.5" y="57" transform="scale(.92,1)">WESLEY HIETPAS</text></g>
<g id="n-pw62" transform="translate(2517,1248)"><use href="#bB"/><text class="t" x="63" y="30.3">Laborer</text><text class="n" x="68.5" y="57" transform="scale(.92,1)">ERIC FISCHER</text></g>
<g id="n-pw63" transform="translate(2672.2,1248)"><use href="#bB"/><text class="t" x="63" y="30.3">Laborer</text><text class="n" x="68.5" y="57" transform="scale(.92,1)">GRADY NETTEKOVEN</text></g>
<g id="n-pw64" transform="translate(2823.7,1248)"><use href="#bB"/><text class="t" x="63" y="30.3">Laborer</text><text class="n" x="68.5" y="57" transform="scale(.92,1)">JOEY LARSON</text></g>
<g id="n-pw72" transform="translate(2517,1343)"><use href="#bB"/><text class="t" x="63" y="30.3">Laborer</text><text class="n" x="68.5" y="57" transform="scale(.92,1)">KYLE HAINES</text></g>
</g>
</svg>
